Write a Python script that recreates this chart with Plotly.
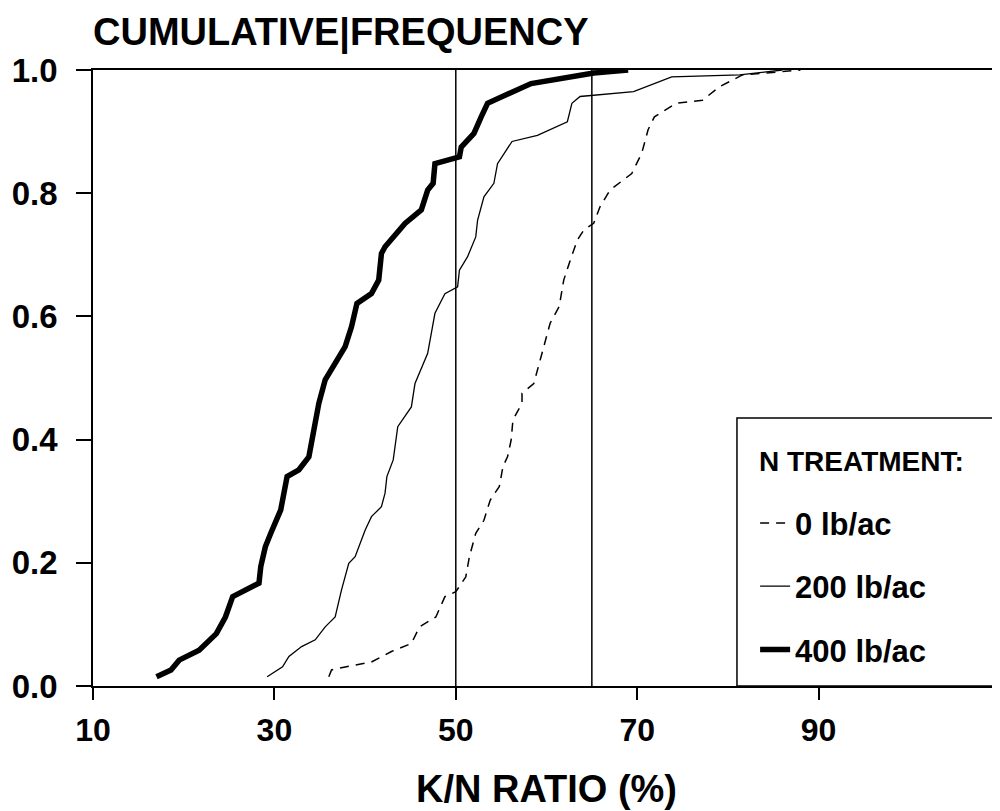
import plotly.graph_objects as go

# K/N ratio (%) vs cumulative frequency
x_0lb = [36.0, 36.3, 37.8, 40.7, 42.9, 45.1, 46.0, 47.8, 48.8, 50.0, 51.1, 51.5, 52.2, 53.1,
         53.8, 54.8, 55.2, 55.7, 56.1, 56.3, 57.3, 57.3, 58.6, 59.3, 59.9, 60.4, 61.4, 61.9,
         62.5, 63.4, 64.1, 65.2, 65.9, 67.0, 69.4, 70.5, 71.2, 71.9, 74.3, 77.2, 79.1, 81.6,
         84.2, 88.0]
y_0lb = [0.015, 0.026, 0.031, 0.039, 0.056, 0.069, 0.096, 0.112, 0.145, 0.153, 0.177, 0.210,
         0.248, 0.269, 0.302, 0.324, 0.356, 0.372, 0.399, 0.432, 0.459, 0.475, 0.491, 0.529,
         0.562, 0.589, 0.616, 0.659, 0.686, 0.724, 0.740, 0.751, 0.778, 0.805, 0.832, 0.865,
         0.903, 0.924, 0.946, 0.951, 0.973, 0.992, 0.995, 1.0]

x_200lb = [29.2, 30.9, 31.6, 33.0, 34.5, 35.6, 36.7, 37.4, 38.2, 38.9, 40.0, 40.7, 41.8, 42.2,
           42.4, 43.1, 43.6, 45.1, 45.5, 46.6, 46.9, 47.7, 48.8, 50.2, 50.4, 51.3, 52.2, 52.4,
           53.1, 54.2, 54.6, 56.2, 59.0, 62.3, 62.8, 63.7, 69.6, 73.8, 81.3, 86.0]
y_200lb = [0.015, 0.031, 0.048, 0.064, 0.075, 0.096, 0.112, 0.156, 0.199, 0.210, 0.253, 0.275,
           0.291, 0.313, 0.340, 0.367, 0.421, 0.453, 0.491, 0.529, 0.540, 0.605, 0.637, 0.648,
           0.675, 0.697, 0.729, 0.756, 0.794, 0.816, 0.848, 0.884, 0.894, 0.916, 0.946, 0.957,
           0.965, 0.989, 0.992, 1.0]

x_400lb = [17.0, 18.6, 19.5, 21.7, 23.6, 24.6, 25.4, 28.3, 28.5, 29.0, 29.6, 30.7, 31.4, 32.7,
           33.8, 34.5, 34.9, 35.6, 36.7, 37.8, 38.5, 39.1, 40.7, 41.5, 41.8, 42.2, 44.4, 46.2,
           46.9, 47.5, 47.7, 50.4, 50.6, 52.0, 52.8, 53.5, 58.3, 65.2, 69.0]
y_400lb = [0.015, 0.026, 0.042, 0.058, 0.085, 0.112, 0.145, 0.167, 0.194, 0.226, 0.248, 0.286,
           0.340, 0.351, 0.372, 0.421, 0.459, 0.497, 0.526, 0.551, 0.583, 0.621, 0.637, 0.659,
           0.702, 0.713, 0.751, 0.773, 0.805, 0.816, 0.848, 0.859, 0.875, 0.897, 0.924, 0.946,
           0.978, 0.995, 1.0]

ref_lines = [50, 65]
x_ticks = [10, 30, 50, 70, 90]
y_ticks = [0.0, 0.2, 0.4, 0.6, 0.8, 1.0]

FONT = "Liberation Sans, Arial, sans-serif"

fig = go.Figure()

fig.add_trace(go.Scatter(x=x_0lb, y=y_0lb, mode="lines", name="0 lb/ac", legendgroup="a",
                         line=dict(color="black", width=1.5, dash="9px,7px")))
fig.add_trace(go.Scatter(x=x_200lb, y=y_200lb, mode="lines", name="200 lb/ac", legendgroup="b",
                         line=dict(color="black", width=1.3)))
fig.add_trace(go.Scatter(x=x_400lb, y=y_400lb, mode="lines", name="400 lb/ac", legendgroup="c",
                         line=dict(color="black", width=5.5)))

for xv in ref_lines:
    fig.add_shape(type="line", xref="x", yref="y", x0=xv, x1=xv, y0=0, y1=1,
                  line=dict(color="black", width=1.5))

# legend frame
fig.add_shape(type="rect", xref="paper", yref="paper", x0=0.71, x1=1.01, y0=0, y1=0.435,
              line=dict(color="black", width=1.5), fillcolor="white", layer="below")

fig.add_annotation(text="N TREATMENT:", xref="paper", yref="paper", x=0.732, y=0.3645,
                   xanchor="left", yanchor="middle", showarrow=False,
                   font=dict(size=28, weight="bold", family=FONT))

# the page body adds an 8px margin, so the figure is 8px smaller than the window
fig.update_layout(
    width=992, height=803,
    margin=dict(l=85, r=0, t=62, b=125, pad=0),
    paper_bgcolor="white", plot_bgcolor="white",
    font=dict(family=FONT, color="black"),
    title=dict(text="CUMULATIVE|FREQUENCY", x=0, xref="paper", xanchor="left",
               y=0.971, yref="container", yanchor="middle",
               font=dict(size=38, weight="bold", family=FONT)),
    xaxis=dict(range=[10, 110], tickvals=x_ticks, ticks="outside", ticklen=12, tickwidth=1.5,
               tickcolor="black", ticklabelstandoff=3, showgrid=False, zeroline=False,
               showline=True, linecolor="black", linewidth=1.5, mirror=True,
               tickfont=dict(size=32, weight="bold"),
               title=dict(text="K/N RATIO (%)", standoff=28, font=dict(size=38, weight="bold"))),
    yaxis=dict(range=[0, 1], tickvals=y_ticks, tickformat=".1f", ticks="outside", ticklen=15,
               tickwidth=1.5, tickcolor="black", ticklabelstandoff=12, showgrid=False,
               zeroline=False, showline=True, linecolor="black", linewidth=1.5,
               tickfont=dict(size=33, weight="bold")),
    legend=dict(x=0.73, xanchor="left", y=0.308, yanchor="top", bgcolor="rgba(0,0,0,0)",
                borderwidth=0, tracegroupgap=20, font=dict(size=31, weight="bold")),
    showlegend=True,
)

fig.write_html("out.html")
